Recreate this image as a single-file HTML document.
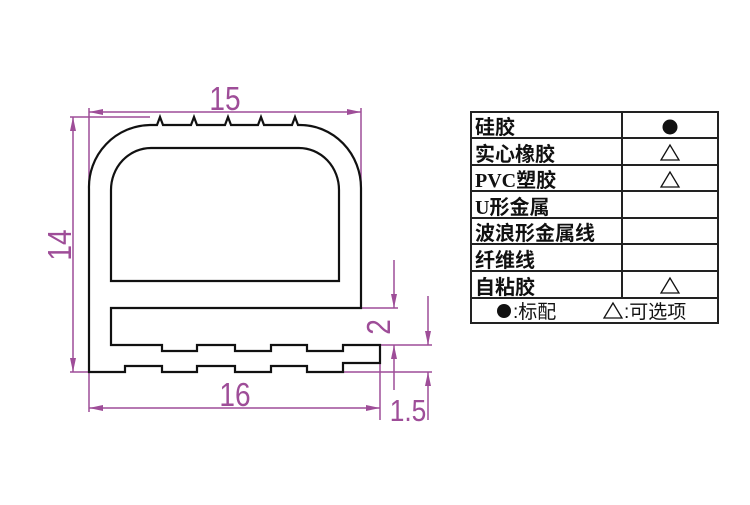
<!DOCTYPE html>
<html><head><style>
body{margin:0;background:#fff;width:750px;height:500px;overflow:hidden}
</style></head><body>
<svg width="750" height="500" xmlns="http://www.w3.org/2000/svg">
<defs>
<marker id="a" markerWidth="14" markerHeight="8" refX="14" refY="4" orient="auto" markerUnits="userSpaceOnUse"><path d="M0,1 L14,4 L0,7 Z" fill="#9e4d98"/></marker>
<marker id="b" markerWidth="14" markerHeight="8" refX="0" refY="4" orient="auto" markerUnits="userSpaceOnUse"><path d="M14,1 L0,4 L14,7 Z" fill="#9e4d98"/></marker>
</defs>
<g stroke="#9e4d98" stroke-width="1.5" fill="none">
<line x1="89" y1="112" x2="361" y2="112" marker-start="url(#b)" marker-end="url(#a)"/>
<line x1="89" y1="108" x2="89" y2="190"/>
<line x1="361" y1="108" x2="361" y2="190"/>
<line x1="70" y1="117" x2="150" y2="117"/>
<line x1="73" y1="117" x2="73" y2="372" marker-start="url(#b)" marker-end="url(#a)"/>
<line x1="70" y1="372" x2="90" y2="372"/>
<line x1="89" y1="408" x2="380" y2="408" marker-start="url(#b)" marker-end="url(#a)"/>
<line x1="89" y1="372" x2="89" y2="412"/>
<line x1="380" y1="363" x2="380" y2="420"/>
<line x1="361" y1="308" x2="398" y2="308"/>
<line x1="380" y1="345" x2="432" y2="345"/>
<line x1="343" y1="372" x2="432" y2="372"/>
<line x1="394" y1="260" x2="394" y2="308" marker-end="url(#a)"/>
<line x1="394" y1="390" x2="394" y2="345" marker-end="url(#a)"/>
<line x1="428" y1="296" x2="428" y2="345" marker-end="url(#a)"/>
<line x1="428" y1="420" x2="428" y2="372" marker-end="url(#a)"/>
</g>
<g fill="#9e4d98" font-family="Liberation Sans,sans-serif" font-size="33">
<text transform="translate(225,110) scale(0.85,1)" text-anchor="middle">15</text>
<text transform="translate(235,406) scale(0.85,1)" text-anchor="middle">16</text>
<text transform="translate(71,245) rotate(-90) scale(0.85,1)" text-anchor="middle">14</text>
<text transform="translate(390,327) rotate(-90) scale(0.85,1)" text-anchor="middle">2</text>
<text transform="translate(408,421) scale(0.85,1)" text-anchor="middle" font-size="31">1.5</text>
</g>
<g stroke="#111" stroke-width="2.2" fill="none">
<path d="M89,189 A62,62 0 0 1 150,125 L157,125 L160,117 L163,125 L191,125 L194,117 L197,125 L225,125 L228,117 L231,125 L258,125 L261,117 L264,125 L292,125 L295,117 L298,125 L300,125 A61,63 0 0 1 361,188 L361,308 L111,308 L111,345 L162,345 L162,351 L197,351 L197,345 L235,345 L235,351 L271,351 L271,345 L307,345 L307,351 L343,351 L343,345 L380,345 L380,363 L343,363 L343,372 L307,372 L307,366 L271,366 L271,372 L235,372 L235,366 L197,366 L197,372 L162,372 L162,366 L125,366 L125,372 L89,372 Z"/>
<path d="M111,281 L111,190 A40,42 0 0 1 151,148 L299,148 A40,42 0 0 1 339,190 L339,281 Z"/>
</g>
<g stroke="#222" stroke-width="2" fill="none">
<rect x="471" y="112" width="247" height="211"/>
<line x1="622" y1="112" x2="622" y2="298"/>
<line x1="471" y1="138" x2="718" y2="138"/>
<line x1="471" y1="165" x2="718" y2="165"/>
<line x1="471" y1="191" x2="718" y2="191"/>
<line x1="471" y1="218" x2="718" y2="218"/>
<line x1="471" y1="244" x2="718" y2="244"/>
<line x1="471" y1="271" x2="718" y2="271"/>
<line x1="471" y1="298" x2="718" y2="298"/>
</g>
<g font-family="Liberation Serif,'Noto Sans CJK SC',sans-serif" font-size="20" font-weight="bold" fill="#111">
<text x="475" y="134">硅胶</text>
<text x="475" y="161">实心橡胶</text>
<text x="475" y="187">PVC塑胶</text>
<text x="475" y="214">U形金属</text>
<text x="475" y="240">波浪形金属线</text>
<text x="475" y="267">纤维线</text>
<text x="475" y="294">自粘胶</text>
</g>
<circle cx="670" cy="127" r="7.5" fill="#111"/>
<g stroke="#111" stroke-width="1.3" fill="none">
<path d="M670,145 L661,160 L679,160 Z"/>
<path d="M670,172 L661,187 L679,187 Z"/>
<path d="M670,278 L661,293 L679,293 Z"/>
<path d="M613,303 L604,318 L622,318 Z"/>
</g>
<circle cx="504" cy="311" r="7" fill="#111"/>
<text x="513" y="318" font-family="Liberation Sans,'Noto Sans CJK SC',sans-serif" font-size="19" fill="#111">:标配</text>
<text x="624" y="318" font-family="Liberation Sans,'Noto Sans CJK SC',sans-serif" font-size="19" fill="#111">:可选项</text>
</svg>
</body></html>
